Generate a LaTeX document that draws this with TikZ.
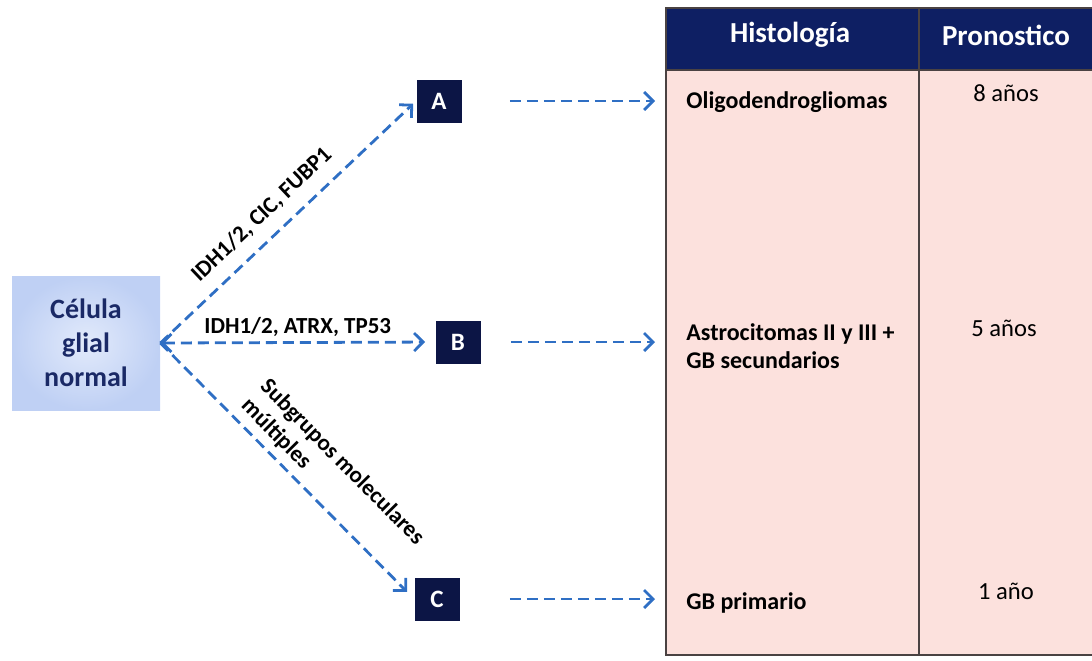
\documentclass[tikz,border=0pt]{standalone}
\usepackage{fontspec}
\setmainfont{Carlito}
\usepackage{tikz}
\usetikzlibrary{arrows.meta,positioning}

\definecolor{boxnavy}{HTML}{0C1545}
\definecolor{headnavy}{HTML}{0E1F63}
\definecolor{rowpink}{HTML}{FCE1DD}
\definecolor{linkblue}{HTML}{2F6FC4}
\definecolor{celltext}{HTML}{1A2966}
\definecolor{cellin}{HTML}{E2EAFB}
\definecolor{cellout}{HTML}{BFD0F4}
\definecolor{gridline}{HTML}{4A4242}

\begin{document}
\begin{tikzpicture}[x=0.5pt, y=-0.5pt,
letter/.style={
		fill=boxnavy,
		text=white,
		minimum width=22.5pt,
		minimum height=21.5pt,
		font=\bfseries\fontsize{12.5}{14}\selectfont,
		},
cellbox/.style={
		inner color=cellin,
		outer color=cellout,
		text=celltext,
		align=center,
		minimum width=74pt,
		minimum height=67pt,
		font=\bfseries\fontsize{14}{17}\selectfont,
		},
link/.style={
		draw=linkblue,
		line width=1.4pt,
		dash pattern=on 5.5pt off 3pt,
		->, >={Straight Barb[length=4.5pt,width=9pt]},
		},
gene/.style={font=\bfseries\fontsize{11.5}{13.5}\selectfont},
head/.style={text=white, font=\bfseries\fontsize{14.5}{16}\selectfont},
histo/.style={anchor=west, inner sep=0pt, align=left, font=\bfseries\fontsize{12}{14}\selectfont},
prog/.style={font=\fontsize{12.3}{14}\selectfont},
]

\useasboundingbox (0,0) rectangle (1092,660);

% table
\fill[rowpink] (666,70) rectangle (1092,655);
\fill[headnavy] (666,8) rectangle (1092,70);
\draw[gridline, line width=0.8pt] (1092,8) -- (666,8) -- (666,655) -- (1092,655);
\draw[gridline, line width=0.8pt] (666,70) -- (1092,70);
\draw[gridline, line width=0.8pt] (919,8) -- (919,655);

\node[head] (hist) at (790,35) {Histología};
\node[head] (pron) at (1006,35) {Pronostico};

\node[histo] (histA) at (686,102) {Oligodendrogliomas};
\node[histo] (histB) at (686,346) {Astrocitomas II y III +\\GB secundarios};
\node[histo] (histC) at (686,603) {GB primario};

\node[prog] (progA) at (1006,93) {8 años};
\node[prog] (progB) at (1004,328) {5 años};
\node[prog] (progC) at (1006,591) {1 año};

% cell and groups
\node[cellbox] (cell) at (86,343) {Célula\\glial\\normal};

\node[letter] (boxA) at (439,101) {A};
\node[letter] (boxB) at (458,342) {B};
\node[letter] (boxC) at (437,599) {C};

\draw[link, shorten >=2pt] (cell.east) -- node[gene, pos=0.46, sloped, above=3pt] {IDH1/2, CIC, FUBP1} (boxA.west);
\draw[link, <->, shorten >=5pt] (cell.east) -- node[gene, above, inner sep=2pt] {IDH1/2, ATRX, TP53} (boxB.west);
\draw[link, shorten >=5pt] (cell.east) -- node[gene, pos=0.59, sloped, above=0pt, align=left] {Subgrupos moleculares\\múltiples} (boxC.west);

\draw[link, shorten <=24pt, shorten >=15.5pt] (boxA.east) -- (boxA.east -| histA.west);
\draw[link, shorten <=15pt, shorten >=15.5pt] (boxB.east) -- (boxB.east -| histB.west);
\draw[link, shorten <=25pt, shorten >=15.5pt] (boxC.east) -- (boxC.east -| histC.west);
\end{tikzpicture}
\end{document}
